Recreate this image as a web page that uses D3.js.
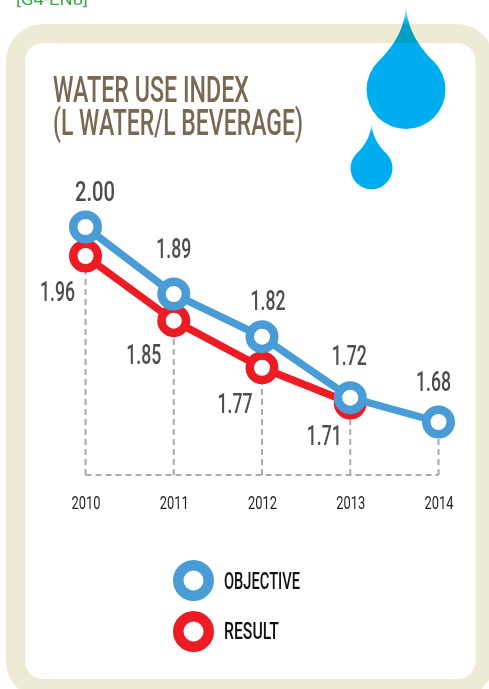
<!DOCTYPE html>
<html><head><meta charset="utf-8">
<script src="https://cdn.jsdelivr.net/npm/d3@7"></script>
<style>html,body{margin:0;padding:0;background:#fff;overflow:hidden}svg{display:block}text{font-family:Roboto,"Liberation Sans",sans-serif}</style>
</head><body><div id="c"></div>
<script>
const years = ["2010","2011","2012","2013","2014"];
const objective = [2.00,1.89,1.82,1.72,1.68];
const result = [1.96,1.85,1.77,1.71];
const titleLines = ["WATER USE INDEX","(L WATER/L BEVERAGE)"];
const legendLabels = ["OBJECTIVE","RESULT"];
const blue="#4a9cd6", red="#ed1c24", ink="#4d4d4f", drop="#00aeef";

const W=489,H=689;
const svg=d3.select("#c").append("svg").attr("width",W).attr("height",H);
const defs=svg.append("defs");
const grad=defs.append("linearGradient").attr("id","tip").attr("x1",0).attr("x2",0).attr("y1",0).attr("y2",1);
grad.append("stop").attr("offset",0).attr("stop-color",drop).attr("stop-opacity",0);
grad.append("stop").attr("offset",.14).attr("stop-color",drop).attr("stop-opacity",1);

function fit(sel,w){sel.attr("textLength",w).attr("lengthAdjust","spacingAndGlyphs");return sel;}

fit(svg.append("text").attr("x",16).attr("y",5).attr("font-size",17).attr("fill","#3fa84a").text("[G4-EN8]"),72);

svg.append("rect").attr("x",6).attr("y",24).attr("width",488).attr("height",674).attr("rx",37).attr("fill","#edebd3");
svg.append("rect").attr("x",25).attr("y",43).attr("width",450.5).attr("height",636).attr("rx",18).attr("fill","#fff");

const dropPath=(cx,tip,cy,r)=>{
  const k=r*0.70;
  return `M${cx},${tip}C${cx+r*.04},${cy-r*1.5} ${cx+r*.3},${cy-r*1.1} ${cx+k},${cy-k}`+
    `A${r},${r} 0 1 1 ${cx-k},${cy-k}C${cx-r*.3},${cy-r*1.1} ${cx-r*.04},${cy-r*1.5} ${cx},${tip}Z`;
};
svg.append("path").attr("d",dropPath(406,5,89,39.5)).attr("fill","url(#tip)").style("mix-blend-mode","multiply");
svg.append("path").attr("d",dropPath(371.5,123,168,21)).attr("fill","url(#tip)");

const tl=[[53,102,196],[53,135,250]];
titleLines.forEach((t,i)=>fit(svg.append("text").attr("x",tl[i][0]).attr("y",tl[i][1]).attr("font-size",36).attr("font-weight",500).attr("fill","#7b6850").text(t),tl[i][2]));

const x=d3.scalePoint().domain(years).range([85.5,438.5]);
const yObj=d3.scaleLinear().domain([1.68,2.00]).range([422,227]);
const yRes=d3.scaleLinear().domain([1.71,1.96]).range([403,256]);
const floorY=475;

const guide=svg.append("g").attr("fill","none").attr("stroke","#aaaaaa").attr("stroke-width",2).attr("stroke-dasharray","6 4");
guide.append("line").attr("x1",x(years[0])).attr("x2",x(years[4])).attr("y1",floorY).attr("y2",floorY);
years.forEach((yr,i)=>guide.append("line").attr("x1",x(yr)).attr("x2",x(yr)).attr("y1",floorY)
  .attr("y2",i<result.length?yRes(result[i]):yObj(objective[i])));

const axis=d3.axisBottom(x).tickSize(0).tickPadding(0);
const ag=svg.append("g").attr("transform","translate(0,495)").call(axis);
ag.select(".domain").remove();
ag.selectAll("text").attr("font-size",18).attr("fill","#231f20").attr("y",0).attr("dy","14px").style("font-family","Roboto")
  .attr("textLength",29).attr("lengthAdjust","spacingAndGlyphs");

function series(vals,sc,col){
  const pts=vals.map((v,i)=>[x(years[i]),sc(v)]);
  svg.append("path").attr("d",d3.line()(pts)).attr("fill","none").attr("stroke",col).attr("stroke-width",7.5);
  svg.append("g").selectAll("circle").data(pts).join("circle").attr("cx",d=>d[0]).attr("cy",d=>d[1]).attr("r",12.25)
    .attr("fill","#fff").attr("stroke",col).attr("stroke-width",8.5);
}
series(result,yRes,red);
series(objective,yObj,blue);

const fmt=d3.format(".2f");
const objOff=[[9.5,-26],[0,-36],[6,-27],[-1,-33],[-5,-31]];
const resOff=[[-28,45],[-30,43],[-27,45],[-26,42]];
function labels(vals,sc,off){
  vals.forEach((v,i)=>{
    const t=svg.append("text").attr("x",x(years[i])+off[i][0]).attr("y",sc(v)+off[i][1]).attr("text-anchor","middle")
      .attr("font-size",27).attr("font-weight",500).attr("fill",ink).text(fmt(v));
    fit(t,v===2?40:35);
  });
}
labels(objective,yObj,objOff);
labels(result,yRes,resOff);

const lw=[76,55];
[[blue,580.5,589],[red,631.5,639]].forEach((l,i)=>{
  svg.append("circle").attr("cx",193.5).attr("cy",l[1]).attr("r",15.25).attr("fill","#fff").attr("stroke",l[0]).attr("stroke-width",10.5);
  fit(svg.append("text").attr("x",224).attr("y",l[2]).attr("font-size",24).attr("font-weight",500).attr("fill","#111").text(legendLabels[i]),lw[i]);
});
</script></body></html>
